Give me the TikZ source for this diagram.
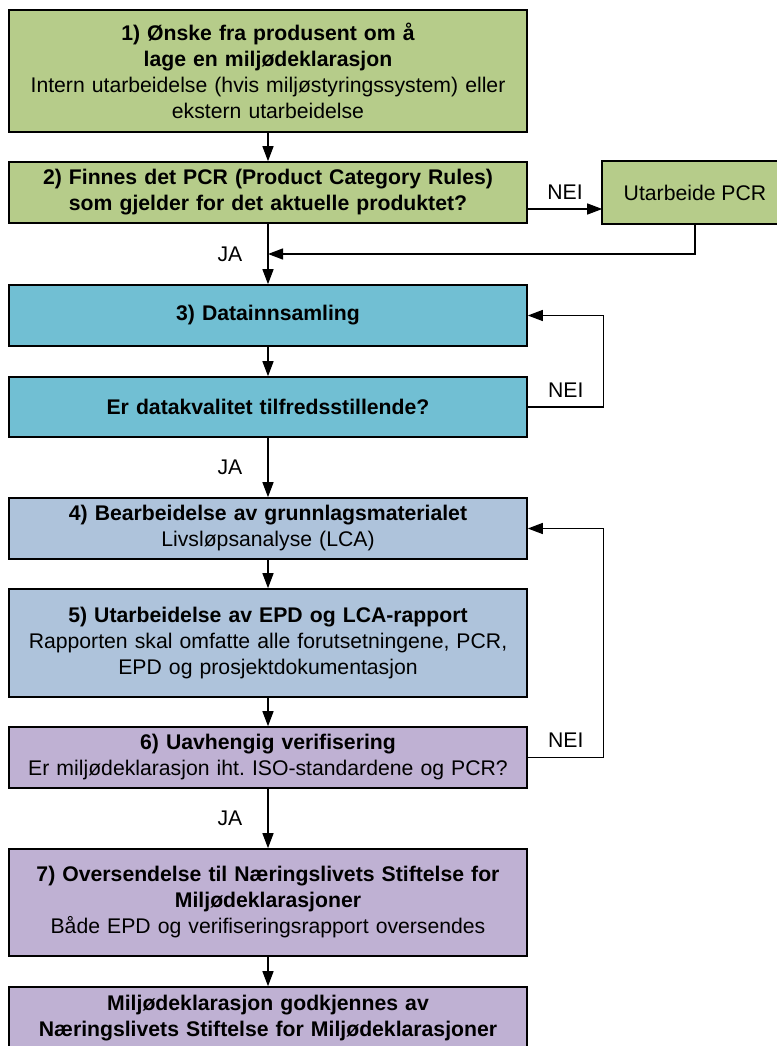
\documentclass[tikz,border=0pt]{standalone}
\usepackage{fontspec}
\setmainfont{Liberation Sans}
\frenchspacing
\usetikzlibrary{arrows.meta}
\definecolor{grn}{HTML}{B6CC8A}
\definecolor{teal}{HTML}{71BFD3}
\definecolor{blu}{HTML}{AEC3DB}
\definecolor{lil}{HTML}{BFB1D3}
\begin{document}
\begin{tikzpicture} [
   x=1pt, y=-1pt, -{Triangle[length=15pt,width=11pt]}, line width=1.3pt,
   font=\fontsize{21.2}{26}\selectfont,
   blk/.style={rectangle, draw, line width=1.6pt, align=center, minimum height=#1},
   blk/.default=61pt,
   box/.style={blk=#1, minimum width=518pt, text width=508pt, inner xsep=5pt},
   box/.default=61pt,
   lab/.style={inner sep=2pt}
]
   \useasboundingbox (0,0) rectangle (776,1046);
   \node (b1) [box=122pt, fill=grn] at (268,71)
      {\textbf{1) Ønske fra produsent om å}\\ \textbf{lage en miljødeklarasjon}\\
       Intern utarbeidelse (hvis miljøstyringssystem) eller\\ ekstern utarbeidelse};
   \node (b2) [box, fill=grn] at (268,192.5)
      {\textbf{2) Finnes det PCR (Product Category Rules)}\\ \textbf{som gjelder for det aktuelle produktet?}};
   \node (pcr) [blk, draw=none, fill=grn, minimum width=184pt] at (695,192.5) {Utarbeide PCR};
   \node (b3) [box, fill=teal] at (268,315.5) {\textbf{3) Datainnsamling}};
   \node (b4) [box=60pt, fill=teal] at (268,407) {\textbf{Er datakvalitet tilfredsstillende?}};
   \node (b5) [box, fill=blu] at (268,528.5)
      {\textbf{4) Bearbeidelse av grunnlagsmaterialet}\\ Livsløpsanalyse (LCA)};
   \node (b6) [box=108pt, fill=blu] at (268,643)
      {\textbf{5) Utarbeidelse av EPD og LCA-rapport}\\
       Rapporten skal omfatte alle forutsetningene, PCR,\\ EPD og prosjektdokumentasjon};
   \node (b7) [box, fill=lil] at (268,757.5)
      {\textbf{6) Uavhengig verifisering}\\ Er miljødeklarasjon iht. ISO-standardene og PCR?};
   \node (b8) [box=107pt, fill=lil] at (268,902.5)
      {\textbf{7) Oversendelse til Næringslivets Stiftelse for}\\ \textbf{Miljødeklarasjoner}\\
       Både EPD og verifiseringsrapport oversendes};
   \node (b9) [box=62pt, fill=lil] at (268,1018)
      {\textbf{Miljødeklarasjon godkjennes av}\\ \textbf{Næringslivets Stiftelse for Miljødeklarasjoner}};
   \coordinate (m1) at (268,254);
   % PCR box is cut off at the right edge
   \draw [-, line width=1.6pt] (pcr.north east) -- (pcr.north west) -- (pcr.south west) -- (pcr.south east);

   % main flow
   \draw (b1) -- (b2);
   \draw (b2) -- node [lab, left=23pt] {JA} (b3);
   \draw (b3) -- (b4);
   \draw (b4) -- node [lab, left=23pt] {JA} (b5);
   \draw (b5) -- (b6);
   \draw (b6) -- (b7);
   \draw (b7) -- node [lab, left=23pt] {JA} (b8);
   \draw (b8) -- (b9);
   % NEI branches
   \draw ([yshift=-16.5pt]b2.east) -- node [lab, above=7pt] {NEI} ([yshift=-16.5pt]pcr.west);
   \draw (pcr.south) |- (m1);
   \draw (b4.east) -- node [lab, above=7pt] {NEI} ++(76,0) |- (b3.east);
   \draw (b7.east) -- node [lab, above=7pt] {NEI} ++(76,0) |- (b5.east);
\end{tikzpicture}
\end{document}
